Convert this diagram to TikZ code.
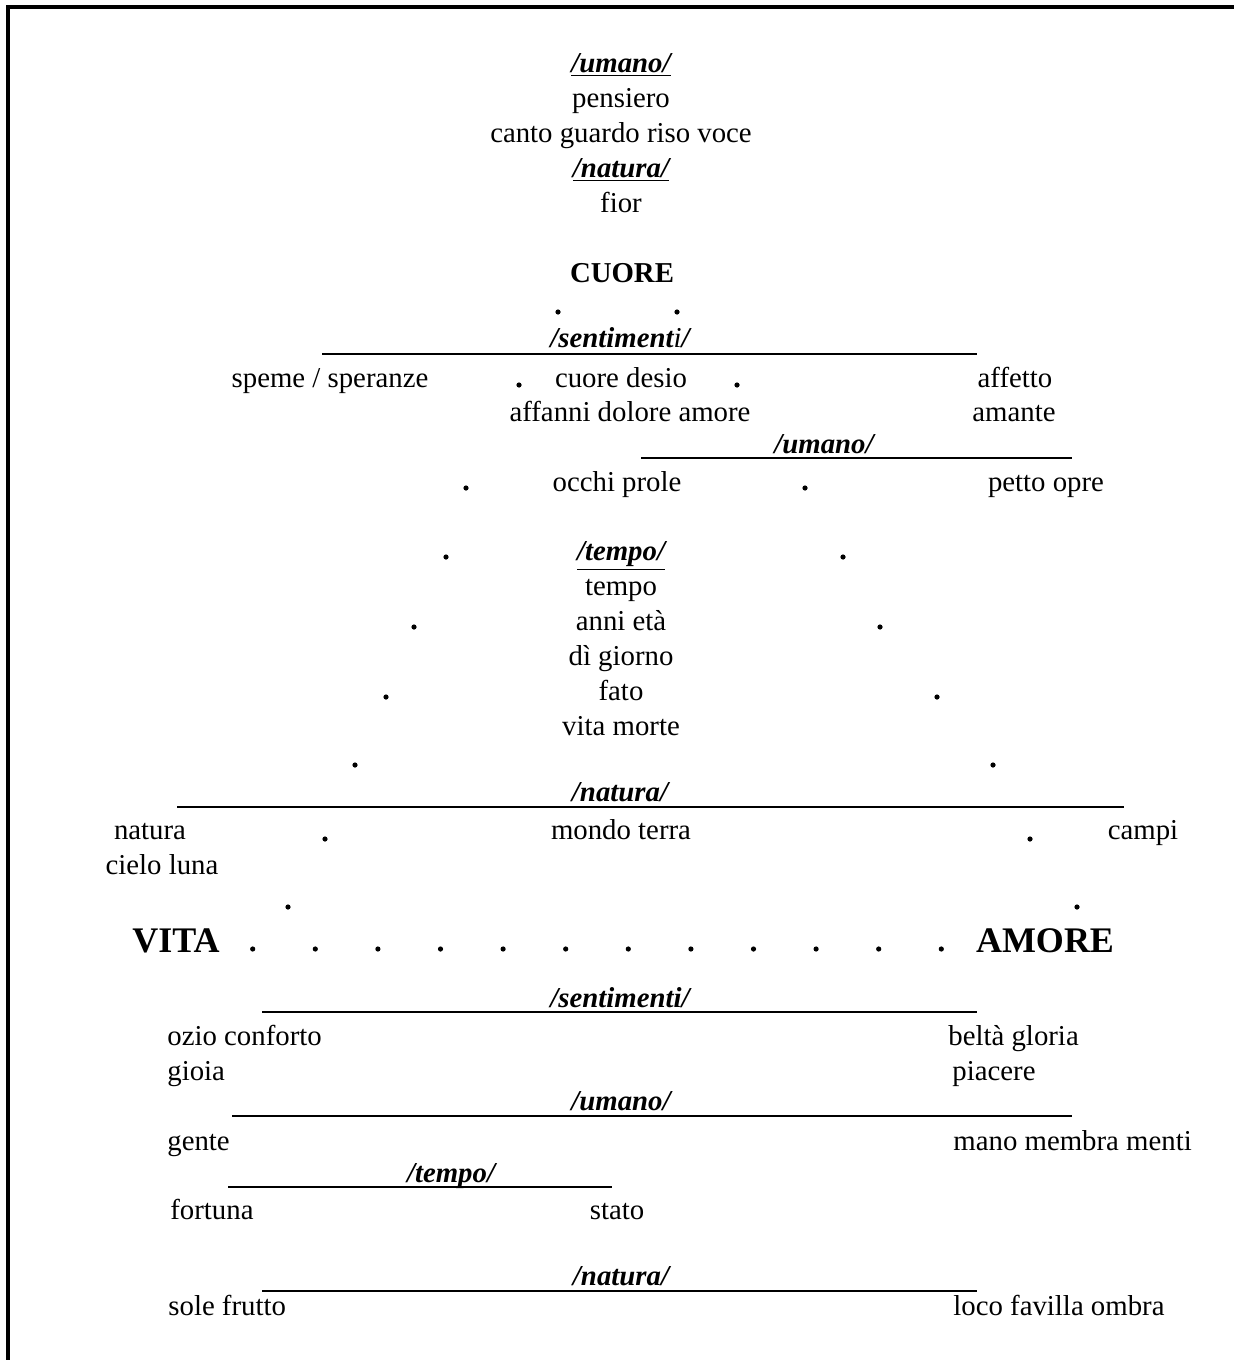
\documentclass[tikz,border=0pt]{standalone}
\usepackage{fontspec}
\setmainfont{Liberation Serif}
\usetikzlibrary{positioning}

\tikzset{
  word/.style={anchor=base, inner sep=0pt, yshift=-1pt, font=\fontsize{14.4}{17}\selectfont},
  lword/.style={word, anchor=base west},
  head/.style={word, yshift=1pt, font=\fontsize{14.4}{17}\selectfont\bfseries\itshape},
  big/.style={word, font=\fontsize{18}{21}\selectfont\bfseries},
  rule/.style={line width=1pt},
}
\newcommand{\dotat}[2]{\fill (#1,#2) circle [radius=2.6];}

\begin{document}
\begin{tikzpicture}[x=0.5pt, y=-0.5pt]

\useasboundingbox (0,0) rectangle (1234,1360);

% --- frame (top and left only) ---
\draw [line width=1.75pt] (8,1360) -- (8,7) -- (1234,7);

% --- top block ---
\node [head] (umanoA) at (621,72) {\underline{/umano/}};
\node [word] (pensiero) at (621,105) {pensiero};
\node [word] (canto) at (621,140) {canto guardo riso voce};
\node [head] (naturaA) at (621,177) {\underline{/natura/}};
\node [word] (fior) at (621,210) {fior};

\node [word, font=\fontsize{14.4}{17}\selectfont\bfseries] (cuore) at (622,280) {CUORE};
\dotat{558}{312} \dotat{677}{312}

% --- sentimenti ---
\node [head] (sentA) at (620,347) {/sentiment\textmd{i}/};
\draw [rule] (322,354) -- (977,354);
\node [word] (speme) at (330,385) {speme / speranze};
\node [word] (desio) at (621,385) {cuore desio};
\node [word] (affetto) at (1015,385) {affetto};
\node [word] (affanni) at (630,419) {affanni dolore amore};
\node [word] (amante) at (1014,419) {amante};
\dotat{519}{385} \dotat{737}{385}

% --- umano ---
\node [head] (umanoB) at (824,453) {/umano/};
\draw [rule] (641,458) -- (1072,458);
\node [word] (occhi) at (617,489) {occhi prole};
\node [word] (petto) at (1046,489) {petto opre};
\dotat{466}{488} \dotat{805}{488}

% --- tempo ---
\node [head] (tempoA) at (621,560) {\underline{/tempo/}};
\node [word] (tempo) at (621,593) {tempo};
\node [word] (anni) at (621,628) {anni età};
\node [word] (giorno) at (621,663) {dì giorno};
\node [word] (fato) at (621,698) {fato};
\node [word] (vita) at (621,733) {vita morte};
\dotat{446}{557} \dotat{843}{557}
\dotat{414}{627} \dotat{880}{627}
\dotat{386}{697} \dotat{937}{697}
\dotat{355}{765} \dotat{993}{765}

% --- natura ---
\node [head] (naturaB) at (620,801) {/natura/};
\draw [rule] (177,807) -- (1124,807);
\node [word] (natura) at (150,837) {natura};
\node [word] (mondo) at (621,837) {mondo terra};
\node [word] (campi) at (1143,837) {campi};
\node [word] (cielo) at (162,872) {cielo luna};
\dotat{325}{839} \dotat{1030}{839}
\dotat{288}{907} \dotat{1077}{907}

% --- VITA ... AMORE ---
\node [big] (VITA) at (176,950) {VITA};
\node [big] (AMORE) at (1045,950) {AMORE};
\foreach \k in {0,...,11}
  \fill (252.7+62.6*\k,949) circle [radius=2.6];

% --- bottom block ---
\node [head] (sentB) at (620,1007) {/sentimenti/};
\draw [rule] (262,1012) -- (977,1012);
\node [lword] (ozio) at (167,1043) {ozio conforto};
\node [lword] (belta) at (948,1043) {beltà gloria};
\node [lword] (gioia) at (167,1078) {gioia};
\node [lword] (piacere) at (952,1078) {piacere};

\node [head] (umanoC) at (621,1110) {/umano/};
\draw [rule] (232,1116) -- (1072,1116);
\node [lword] (gente) at (167,1148) {gente};
\node [lword] (mano) at (953,1148) {mano membra menti};

\node [head] (tempoB) at (451,1182) {/tempo/};
\draw [rule] (228,1187) -- (612,1187);
\node [lword] (fortuna) at (170,1217) {fortuna};
\node [word] (stato) at (617,1217) {stato};

\node [head] (naturaC) at (621,1285) {/natura/};
\draw [rule] (262,1291) -- (977,1291);
\node [lword] (sole) at (168,1313) {sole frutto};
\node [lword] (loco) at (953,1313) {loco favilla ombra};

\end{tikzpicture}
\end{document}
